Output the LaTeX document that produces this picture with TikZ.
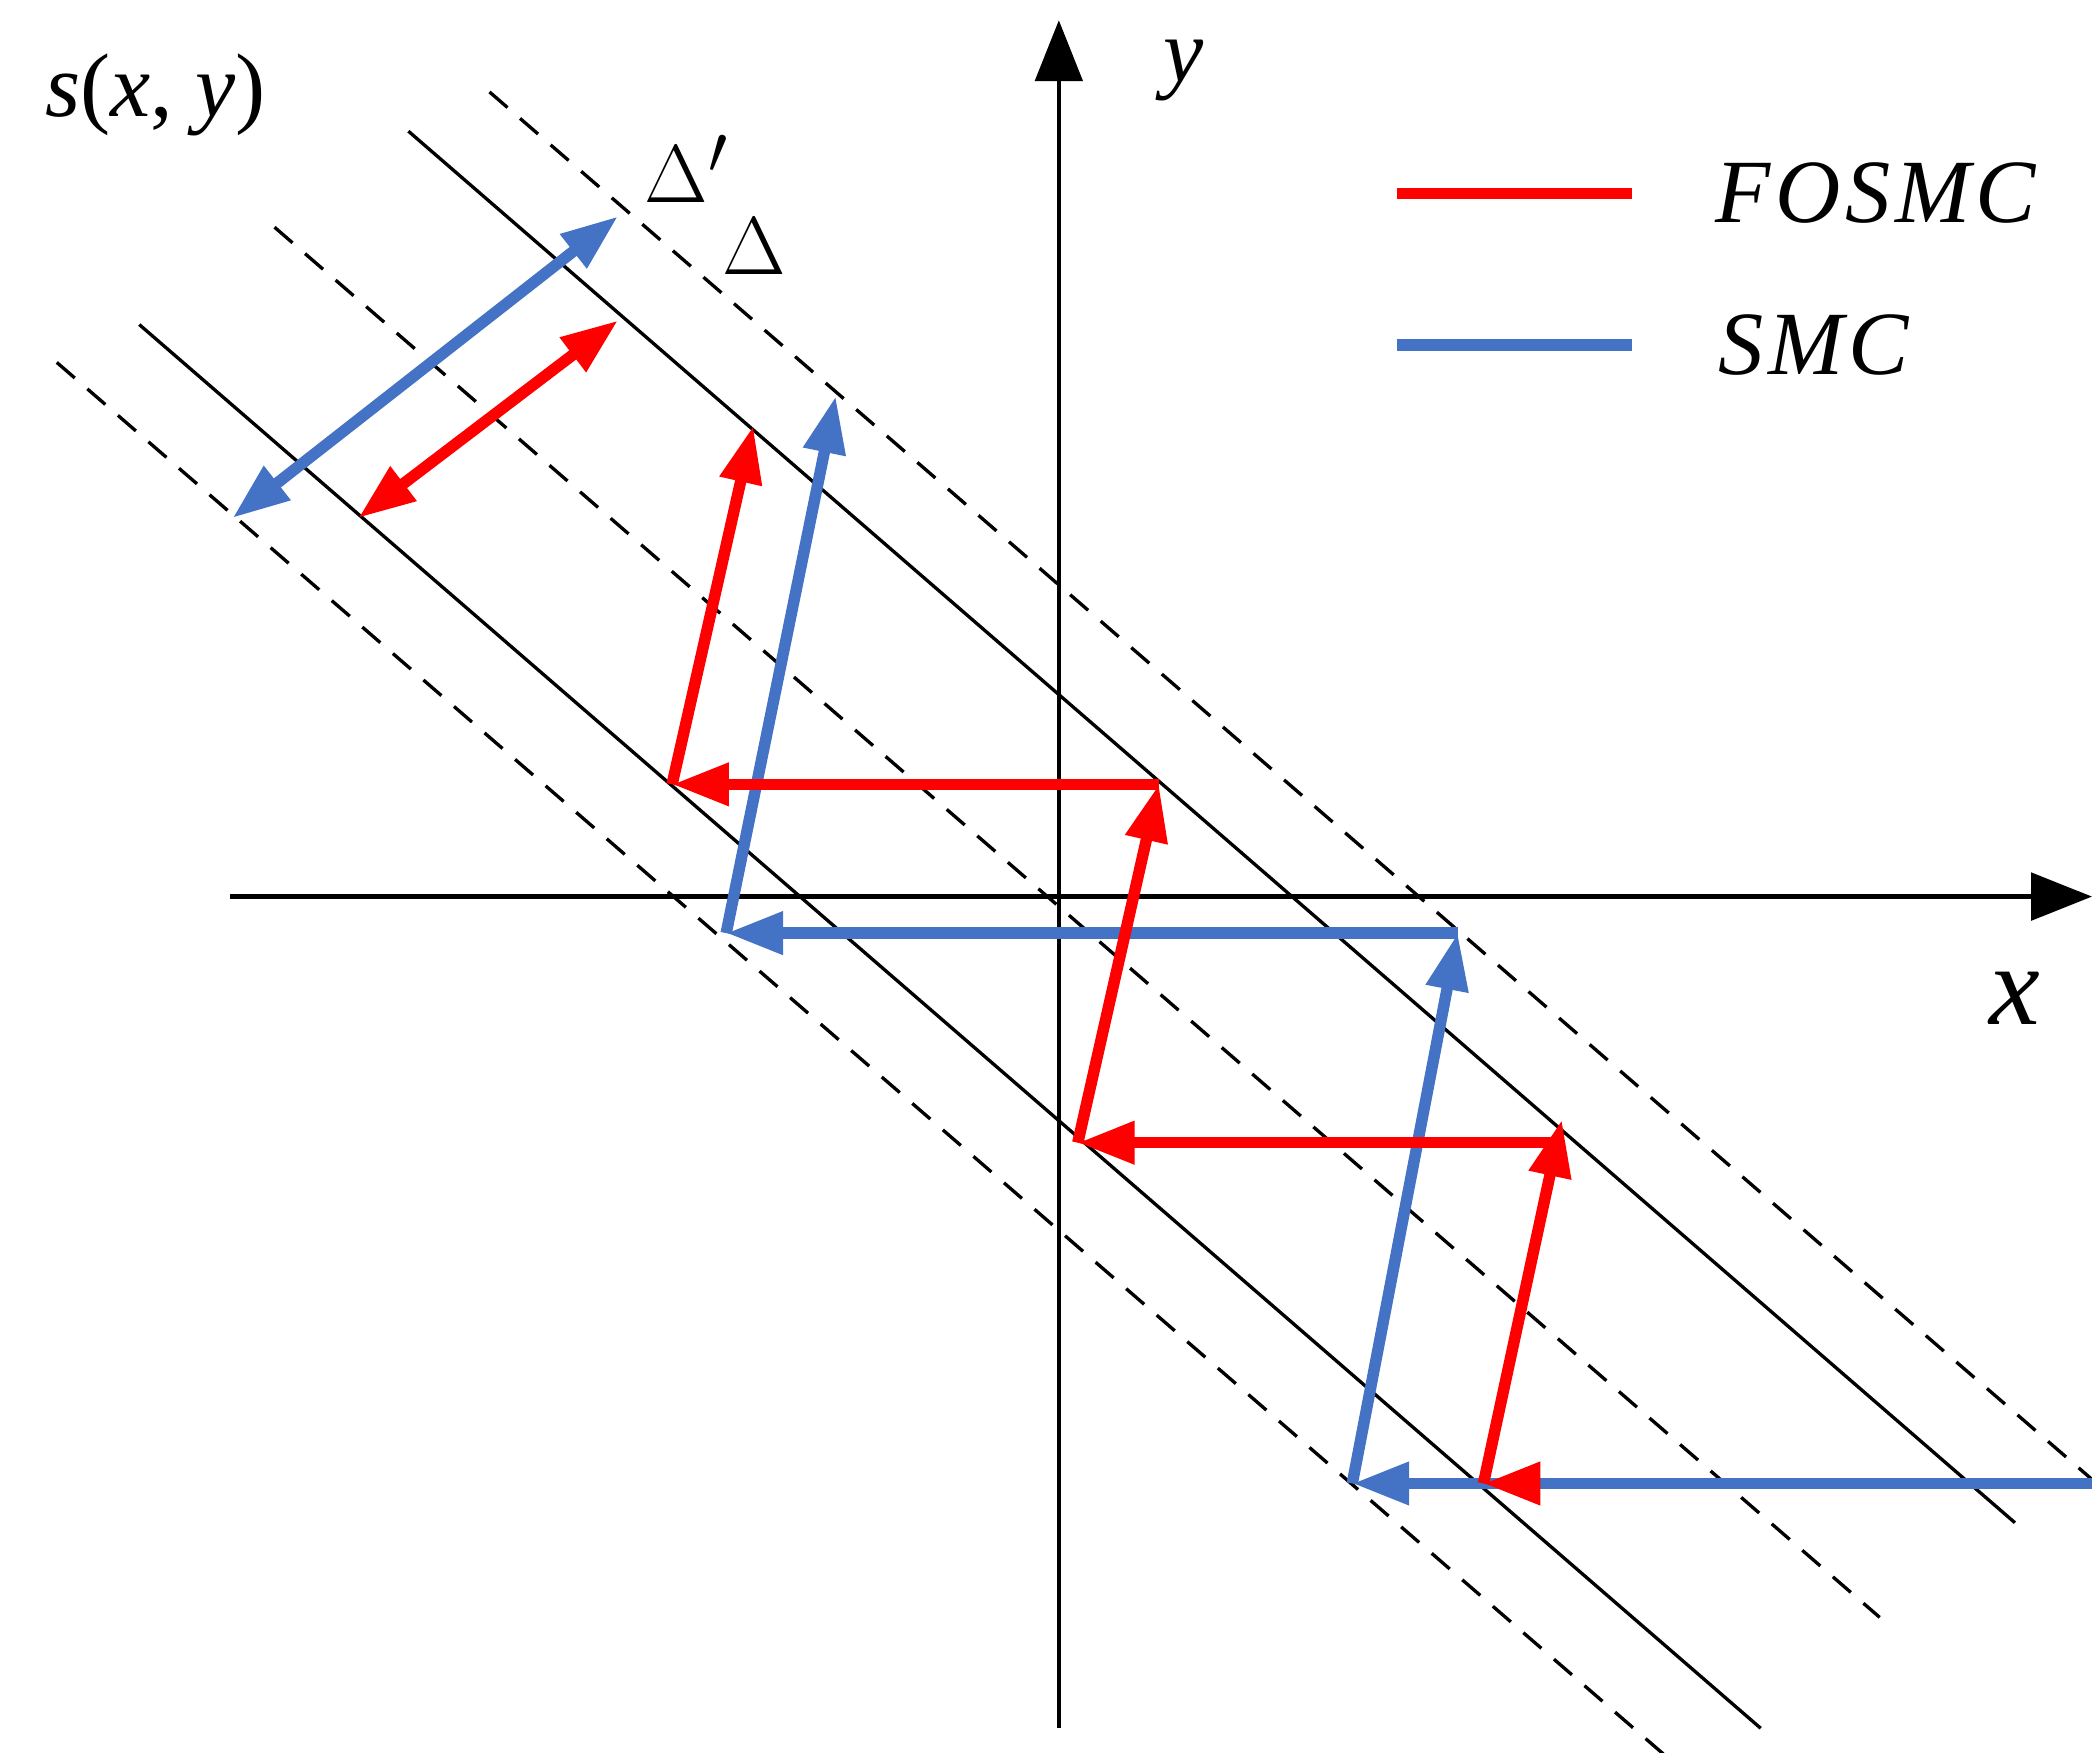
\documentclass[tikz,border=0pt]{standalone}
\usepackage{fontspec}
\setmainfont{Liberation Serif}
\usetikzlibrary{arrows.meta}
\definecolor{myred}{RGB}{255,0,0}
\definecolor{myblue}{RGB}{68,114,196}
\begin{document}
\begin{tikzpicture}[x=0.01cm,y=-0.01cm,
  thinline/.style={line width=0.7pt,black},
  dashline/.style={thinline,dash pattern=on 5pt off 3.5pt},
  axis/.style={line width=0.9pt,-{Triangle[length=0.45cm,width=0.35cm]}},
  fat/.style={line width=2.4pt,-{Triangle[length=0.42cm,width=0.3cm]}},
  fatboth/.style={line width=2.4pt,{Triangle[length=0.42cm,width=0.3cm]}-{Triangle[length=0.42cm,width=0.3cm]}},
  lbl/.style={font=\fontsize{19}{22}\selectfont\itshape,inner sep=0pt}]
\useasboundingbox (0,0) rectangle (1547,1296);
% diagonal lines
\draw[dashline] (362,68) -- (1547,1094);
\draw[thinline] (302,97) -- (1490,1126);
\draw[dashline] (203,168) -- (1390,1196);
\draw[thinline] (103,240) -- (1302,1278);
\draw[dashline] (42,268) -- (1230,1297);
% axes
\coordinate (xs) at (170,663); \coordinate (xe) at (1547,663);
\coordinate (ys) at (783,1278); \coordinate (ye) at (783,15);
\draw[axis] (xs) -- (xe);
\draw[axis] (ys) -- (ye);
% blue path
\coordinate (b0) at (1547,1097); \coordinate (b1) at (1000,1097);
\coordinate (b2) at (1078,690); \coordinate (b3) at (537,690);
\coordinate (b4) at (618,293);
\draw[fat,myblue] (b0) -- (b1);
\draw[fat,myblue] (b1) -- (b2);
\draw[fat,myblue] (b2) -- (b3);
\draw[fat,myblue] (b3) -- (b4);
% red path
\coordinate (r0) at (1130,1097); \coordinate (r1) at (1097,1097);
\coordinate (r2) at (1155,828); \coordinate (r2b) at (1155,845);
\coordinate (r3) at (797,845); \coordinate (r4) at (857,580);
\coordinate (r5) at (497,580); \coordinate (r6) at (557,315);
\draw[fat,myred] (r0) -- (r1);
\draw[fat,myred] (r1) -- (r2);
\draw[fat,myred] (r2b) -- (r3);
\draw[fat,myred] (r3) -- (r4);
\draw[fat,myred] (r4) -- (r5);
\draw[fat,myred] (r5) -- (r6);
% double arrows
\coordinate (d1) at (172,383); \coordinate (d2) at (457,160);
\coordinate (d3) at (265,383); \coordinate (d4) at (457,237);
\draw[fatboth,myblue] (d1) -- (d2);
\draw[fatboth,myred] (d3) -- (d4);
% labels
\node[lbl] (s) at (115,70) {s\/\upshape(\itshape x\upshape, \itshape y\upshape)};
\node[lbl] (y) at (875,52) {y};
\node[lbl,font=\fontsize{24}{28}\selectfont\itshape] (x) at (1490,738) {x};
\node[lbl] (dp) at (508,125) {\upshape$\Delta'$};
\node[lbl] (d) at (558,182) {\upshape$\Delta$};
% legend
\coordinate (l1a) at (1033,143); \coordinate (l1b) at (1207,143);
\coordinate (l2a) at (1033,255); \coordinate (l2b) at (1207,255);
\draw[line width=2.4pt,myred] (l1a) -- (l1b);
\draw[line width=2.4pt,myblue] (l2a) -- (l2b);
\node[lbl,anchor=west] (f) at (1268,143) {F\kern1pt O\kern1pt S\kern1pt M\kern1pt C};
\node[lbl,anchor=west] (sm) at (1270,255) {S\kern1pt M\kern1pt C};
\end{tikzpicture}
\end{document}
